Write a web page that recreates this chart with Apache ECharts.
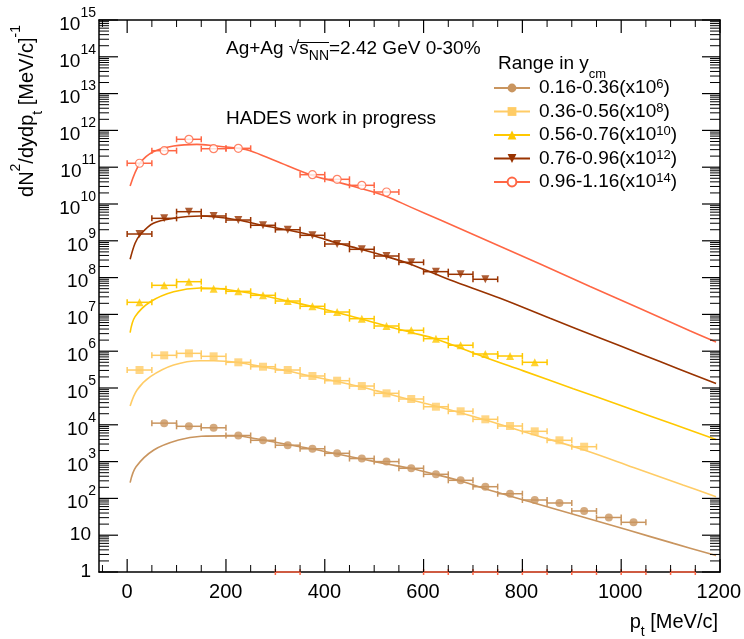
<!DOCTYPE html>
<html><head><meta charset="utf-8">
<script src="https://cdn.jsdelivr.net/npm/echarts@6/dist/echarts.min.js"></script>
<style>html,body{margin:0;padding:0;background:#fff}#c{width:744px;height:639px}</style>
</head><body><div id="c"></div>
<script>
const F = '"Liberation Sans", Arial, Helvetica, sans-serif';

// ---- data ----
const rangeLabels = ['0.16-0.36', '0.36-0.56', '0.56-0.76', '0.76-0.96', '0.96-1.16'];
const scaleExps = [6, 8, 10, 12, 14];
const binHalf = 25;

const s1Pt = [75,125,175,225,275,325,375,425,475,525,575,625,675,725,775,825,875,925,975,1025];
const s1Val = [1.11e4,9.1e3,8.3e3,5.12e3,3.79e3,2.79e3,2.23e3,1.68e3,1.21e3,1.0e3,658,452,310,208,134,90.5,75,45.5,30.3,22.4];

const s2Pt = [25,75,125,175,225,275,325,375,425,475,525,575,625,675,725,775,825,875,925];
const s2Val = [3.08e5,7.73e5,8.75e5,7.26e5,4.99e5,3.79e5,3.08e5,2.12e5,1.58e5,1.13e5,7.17e4,5.02e4,3.1e4,2.33e4,1.41e4,9.27e3,6.65e3,3.79e3,2.54e3];

const s3Pt = [25,75,125,175,225,275,325,375,425,475,525,575,625,675,725,775,825];
const s3Val = [2.13e7,6.17e7,7.74e7,5.0e7,4.24e7,3.3e7,2.31e7,1.66e7,1.16e7,7.64e6,4.84e6,3.69e6,2.19e6,1.45e6,8.4e5,7.4e5,4.99e5];

const s4Pt = [25,75,125,175,225,275,325,375,425,475,525,575,625,675,725];
const s4Val = [1.53e9,4.08e9,6.18e9,4.72e9,3.67e9,2.64e9,2.0e9,1.41e9,8.18e8,5.87e8,3.86e8,2.6e8,1.45e8,1.23e8,9.0e7];

const s5Pt = [25,75,125,175,225,375,425,475,525];
const s5Val = [1.28e11,2.81e11,5.73e11,3.18e11,3.26e11,6.26e10,4.69e10,3.22e10,2.12e10];
const s5EmptyPt = [325,625,725,825,925,1025,1125];
const s5EmptyVal = [1,1,1,1,1,1,1];

const f1Pt = [6,18,54,104,150,200,225,250,275,325,375,425,475,525,575,625,675,721,822,917,1012,1106,1192];
const f1Val = [269,724,2070,3860,4900,5010,4955,4470,3890,2920,2200,1610,1180,861,650,446,297,188,76.4,32.8,14.0,5.99,2.81];

const f2Pt = [6,20,47,94,148,175,225,275,325,375,425,475,525,575,634,725,825,925,1025,1125,1192];
const f2Val = [3.24e4,8.83e4,2.03e5,4.22e5,5.52e5,5.52e5,4.93e5,3.72e5,2.9e5,2.06e5,1.5e5,1.07e5,7.1e4,4.72e4,2.99e4,1.35e4,5.28e3,2.07e3,692,231,111];

const f3Pt = [6,16,47,94,148,175,225,275,325,375,425,475,525,575,625,721,802,903,1005,1106,1192];
const f3Val = [3.18e6,8.67e6,2.21e7,4.14e7,5.21e7,5.12e7,4.25e7,3.27e7,2.31e7,1.64e7,1.13e7,7.5e6,4.84e6,3.22e6,2.15e6,7.1e5,2.92e5,9.57e4,3.14e4,1.03e4,3.99e3];

const f4Pt = [6,16,26,53,94,148,175,225,275,325,375,425,475,525,575,625,654,755,856,957,1038,1119,1192];
const f4Val = [3.14e8,8.55e8,1.44e9,2.99e9,4.08e9,4.72e9,4.52e9,3.67e9,2.6e9,1.96e9,1.39e9,8.7e8,5.8e8,3.74e8,2.28e8,1.23e8,8.6e7,2.74e7,7.83e6,2.29e6,8.55e5,3.2e5,1.32e5];

const f5Pt = [6,26,53,94,141,175,225,249,300,375,425,475,525,575,634,735,836,937,1038,1140,1192];
const f5Val = [3.1e10,1.28e11,2.63e11,3.77e11,4.17e11,3.85e11,3.26e11,2.81e11,1.5e11,5.94e10,3.96e10,2.6e10,1.6e10,8.1e9,3.67e9,9.27e8,2.34e8,5.73e7,1.45e7,3.54e6,1.78e6];

// axis ranges and tick values
const xRange = [-57, 1200];
const yRange = [1, 1e15];
const xTickMajor = [0,200,400,600,800,1000,1200];
const xTickMinor = [-50,50,100,150,250,300,350,450,500,550,650,700,750,850,900,950,1050,1100,1150];
const yTickMajor = [1,1e1,1e2,1e3,1e4,1e5,1e6,1e7,1e8,1e9,1e10,1e11,1e12,1e13,1e14,1e15];
const yTickMinor = [];
for (let e = 0; e < 15; e++) for (let k = 2; k <= 9; k++) yTickMinor.push(+(k * Math.pow(10, e)).toPrecision(3));

// ---- styles ----
const colors = ['#c9955f', '#ffcc66', '#ffc800', '#993300', '#ff6644'];
const symbols = ['circle', 'rect', 'triangle', 'triangle', 'circle'];
const rotates = [0, 0, 0, 180, 0];

const G = {left: 99, right: 24, top: 20, bottom: 67, W: 744};
const pxPerUnit = (G.W - G.left - G.right) / (xRange[1] - xRange[0]);

const sets = [
  {pt: s1Pt, val: s1Val, fPt: f1Pt, fVal: f1Val},
  {pt: s2Pt, val: s2Val, fPt: f2Pt, fVal: f2Val},
  {pt: s3Pt, val: s3Val, fPt: f3Pt, fVal: f3Val},
  {pt: s4Pt, val: s4Val, fPt: f4Pt, fVal: f4Val},
  {pt: s5Pt, val: s5Val, fPt: f5Pt, fVal: f5Val}
];
const legendNames = rangeLabels.map((r, i) => r + '(x10^' + scaleExps[i] + ')');

function errBars(pts, vals, color, clip) {
  return {
    type: 'custom', xAxisIndex: 0, yAxisIndex: 0, clip: clip, silent: true, z: 4,
    data: pts.map((p, i) => [p, vals[i]]),
    encode: {x: 0, y: 1},
    renderItem: (params, api) => {
      const p = api.value(0), v = api.value(1);
      const a = api.coord([p - binHalf, v]), b = api.coord([p + binHalf, v]);
      const st = {stroke: color, lineWidth: 1.5, fill: null};
      return {type: 'group', children: [
        {type: 'line', shape: {x1: a[0], y1: a[1], x2: b[0], y2: b[1]}, style: st},
        {type: 'line', shape: {x1: a[0], y1: a[1] - 3, x2: a[0], y2: a[1] + 3}, style: st},
        {type: 'line', shape: {x1: b[0], y1: b[1] - 3, x2: b[0], y2: b[1] + 3}, style: st}
      ]};
    }
  };
}

const series = [];
sets.forEach((s, i) => {
  const hollow = i === 4;
  series.push({
    type: 'line', name: legendNames[i], xAxisIndex: 0, yAxisIndex: 0,
    data: s.fPt.map((p, j) => [p, s.fVal[j]]),
    smooth: 0.35, showSymbol: false,
    symbol: hollow ? 'emptyCircle' : symbols[i], symbolRotate: rotates[i], symbolSize: 9,
    lineStyle: {color: colors[i], width: 1.6},
    itemStyle: {color: colors[i]},
    z: 3, silent: true
  });
  series.push(errBars(s.pt, s.val, colors[i], true));
  series.push({
    type: 'scatter', xAxisIndex: 0, yAxisIndex: 0,
    data: s.pt.map((p, j) => [p, s.val[j]]),
    symbol: symbols[i], symbolRotate: rotates[i], symbolSize: 8,
    itemStyle: hollow ? {color: '#fff', borderColor: colors[i], borderWidth: 1.2} : {color: colors[i]},
    z: 5, silent: true
  });
});
series.push(errBars(s5EmptyPt, s5EmptyVal, colors[4], false));

const LINE = {color: '#000', width: 1.5};

const grids = [
  {left: G.left, right: G.right, top: G.top, bottom: G.bottom},
  {left: G.left + (0 - xRange[0]) * pxPerUnit, right: G.right, top: G.top, bottom: G.bottom}
];

const xAxes = [
  {gridIndex: 0, type: 'value', position: 'bottom', min: xRange[0], max: xRange[1],
    axisLine: {show: true, onZero: false, lineStyle: LINE}, axisTick: {show: false}, axisLabel: {show: false}, splitLine: {show: false}},
  {gridIndex: 0, type: 'value', position: 'top', min: xRange[0], max: xRange[1],
    axisLine: {show: true, onZero: false, lineStyle: LINE}, axisTick: {show: false}, axisLabel: {show: false}, splitLine: {show: false}},
  {gridIndex: 1, type: 'value', position: 'bottom', min: 0, max: xRange[1], interval: 200,
    axisLine: {show: false, onZero: false}, axisTick: {show: false},
    axisLabel: {show: true, color: '#000', fontSize: 20, fontFamily: F, margin: 10, formatter: v => String(v)},
    splitLine: {show: false}}
];

const yAxes = [
  {gridIndex: 0, type: 'log', logBase: 10, position: 'left', min: yRange[0], max: yRange[1],
    axisLine: {show: true, onZero: false, lineStyle: LINE}, axisTick: {show: false}, axisLabel: {show: false}, splitLine: {show: false}},
  {gridIndex: 0, type: 'value', position: 'left', min: 0, max: 15, interval: 1,
    axisLine: {show: false, onZero: false}, axisTick: {show: false},
    axisLabel: {show: true, margin: 3, color: '#000', fontFamily: F, fontSize: 19,
      formatter: e => {
        if (e === 0) return '{p|1}';
        if (e === 1) return '{p|10}';
        return '{b|10}{s|' + e + '}';
      },
      rich: {
        p: {fontSize: 19, fontFamily: F, color: '#000', padding: [0, 5, 0, 0]},
        b: {fontSize: 19, fontFamily: F, color: '#000', lineHeight: 28, verticalAlign: 'bottom'},
        s: {fontSize: 14, fontFamily: F, color: '#000', lineHeight: 28, verticalAlign: 'top'}
      }},
    splitLine: {show: false}},
  {gridIndex: 0, type: 'value', position: 'right', min: 0, max: 15,
    axisLine: {show: true, onZero: false, lineStyle: LINE}, axisTick: {show: false}, axisLabel: {show: false}, splitLine: {show: false}},
  {gridIndex: 1, type: 'value', show: false, min: 0, max: 1}
];

const legendRich = {
  b0: {fontSize: 19, fontFamily: F, color: '#000', lineHeight: 20, padding: [0, 0, 0, 4]},
  b: {fontSize: 19, fontFamily: F, color: '#000', lineHeight: 20},
  s: {fontSize: 13, fontFamily: F, color: '#000', lineHeight: 20, verticalAlign: 'top'}
};

const textGraphics = [
  {type: 'text', x: 27, y: 111, rotation: Math.PI / 2, silent: true,
    style: {text: '{n|dN}{sp|2}{n|/dydp}{sb|t}{n| [MeV/c]}{sp|-1}', align: 'center', verticalAlign: 'middle',
      fill: '#000',
      rich: {
        n: {fontSize: 20, fontFamily: F, fill: '#000', lineHeight: 36},
        sp: {fontSize: 14, fontFamily: F, fill: '#000', lineHeight: 22, verticalAlign: 'top'},
        sb: {fontSize: 14, fontFamily: F, fill: '#000', lineHeight: 14, verticalAlign: 'bottom'}
      }}},
  {type: 'text', x: 718, y: 622, silent: true,
    style: {text: '{n|p}{sb|t}{n| [MeV/c]}', align: 'right', verticalAlign: 'middle', fill: '#000',
      rich: {
        n: {fontSize: 20, fontFamily: F, fill: '#000', lineHeight: 34},
        sb: {fontSize: 14, fontFamily: F, fill: '#000', lineHeight: 14, verticalAlign: 'bottom'}
      }}},
  {type: 'text', x: 226, y: 49, silent: true,
    style: {text: '{n|Ag+Ag √s}{sb|NN}{n|=2.42 GeV 0-30%}', align: 'left', verticalAlign: 'middle', fill: '#000',
      rich: {
        n: {fontSize: 19, fontFamily: F, fill: '#000', lineHeight: 28},
        sb: {fontSize: 14, fontFamily: F, fill: '#000', lineHeight: 16, verticalAlign: 'bottom'}
      }}},
  {type: 'line', silent: true, shape: {x1: 298, y1: 42.5, x2: 329, y2: 42.5}, style: {stroke: '#000', lineWidth: 1}},
  {type: 'text', x: 226, y: 119, silent: true,
    style: {text: 'HADES work in progress', align: 'left', verticalAlign: 'middle', fill: '#000', fontSize: 19, fontFamily: F}},
  {type: 'text', x: 498, y: 64, silent: true,
    style: {text: '{n|Range in y}{sb|cm}', align: 'left', verticalAlign: 'middle', fill: '#000',
      rich: {
        n: {fontSize: 19, fontFamily: F, fill: '#000', lineHeight: 34},
        sb: {fontSize: 13, fontFamily: F, fill: '#000', lineHeight: 34, verticalAlign: 'bottom'}
      }}}
];

const option = {
  animation: false,
  backgroundColor: '#fff',
  textStyle: {fontFamily: F},
  grid: grids,
  xAxis: xAxes,
  yAxis: yAxes,
  legend: {
    orient: 'vertical', left: 488, top: 73, itemWidth: 36, itemHeight: 11, itemGap: 4,
    selectedMode: false,
    data: legendNames,
    formatter: name => {
      const i = legendNames.indexOf(name);
      return '{b0|' + rangeLabels[i] + '(x10}{s|' + scaleExps[i] + '}{b|)}';
    },
    textStyle: {color: '#000', fontSize: 19, fontFamily: F, rich: legendRich}
  },
  graphic: textGraphics,
  series: series
};

const chart = echarts.init(document.getElementById('c'), null, {renderer: 'canvas'});
chart.setOption(option);

// inward frame ticks (ROOT style), positioned through the chart's own axis scales
const toPx = (x, y) => chart.convertToPixel({xAxisIndex: 0, yAxisIndex: 0}, [x, y]);
const tickEls = [];
function tick(x1, y1, x2, y2, w) {
  tickEls.push({type: 'line', silent: true, z: 50,
    shape: {x1: x1, y1: y1, x2: x2, y2: y2}, style: {stroke: '#000', lineWidth: w}});
}
function xTicks(values, len, w) {
  values.forEach(v => {
    const b = toPx(v, yRange[0]), t = toPx(v, yRange[1]);
    tick(b[0], b[1], b[0], b[1] - len, w);
    tick(t[0], t[1], t[0], t[1] + len, w);
  });
}
function yTicks(values, lenL, lenR, w) {
  values.forEach(v => {
    const l = toPx(xRange[0], v), r = toPx(xRange[1], v);
    tick(l[0], l[1], l[0] + lenL, l[1], w);
    tick(r[0], r[1], r[0] - lenR, r[1], w);
  });
}
xTicks(xTickMajor, 13, 1.2);
xTicks(xTickMinor, 7, 1);
yTicks(yTickMajor, 19, 18, 1.2);
yTicks(yTickMinor, 10, 10, 1);
chart.setOption({graphic: textGraphics.concat(tickEls)});
</script>
</body></html>
